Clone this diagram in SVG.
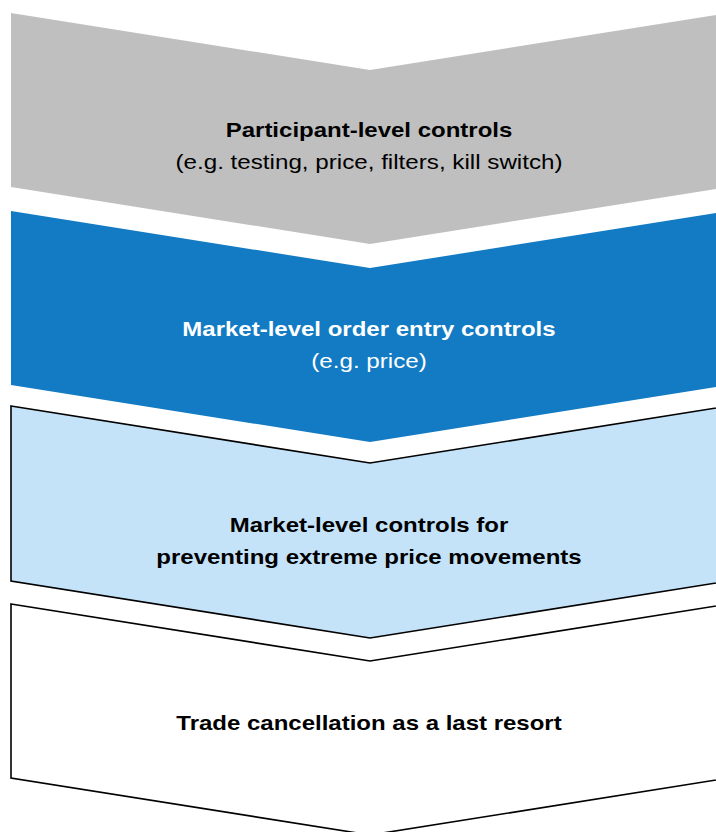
<svg xmlns="http://www.w3.org/2000/svg" width="716" height="832" viewBox="0 0 716 832">
<style>
text{font-family:"Liberation Sans",Arial,sans-serif;font-size:20px;text-anchor:middle}
.b{font-weight:bold}
.dk{fill:#000}
.wt{fill:#fff}
.out{stroke:#000;stroke-width:1.6;stroke-linejoin:miter}
</style>
<rect width="716" height="832" fill="#fff"/>
<g id="participant">
<path d="M11,13 L370,70 L729,13 L729,187 L370,244 L11,187 Z" fill="#bfbfbf"/>
<text class="b dk" transform="translate(369 137) scale(1.2 1)">Participant-level controls</text>
<text class="dk" transform="translate(369 169) scale(1.21 1)">(e.g. testing, price, filters, kill switch)</text>
</g>
<g id="order-entry">
<path d="M11,211 L370,268 L729,211 L729,385 L370,442 L11,385 Z" fill="#127bc4"/>
<text class="b wt" transform="translate(369 336) scale(1.2 1)">Market-level order entry controls</text>
<text class="wt" transform="translate(369 368) scale(1.21 1)">(e.g. price)</text>
</g>
<g id="extreme-price">
<path class="out" d="M11,406 L370,463 L729,406 L729,581 L370,638 L11,581 Z" fill="#c5e3f8"/>
<text class="b dk" transform="translate(369 532) scale(1.2 1)">Market-level controls for</text>
<text class="b dk" transform="translate(369 564) scale(1.2 1)">preventing extreme price movements</text>
</g>
<g id="cancellation">
<path class="out" d="M11,604 L370,661 L729,604 L729,778 L370,835 L11,778 Z" fill="#fff"/>
<text class="b dk" transform="translate(369 730) scale(1.2 1)">Trade cancellation as a last resort</text>
</g>
<g id="connectors"/>
</svg>
